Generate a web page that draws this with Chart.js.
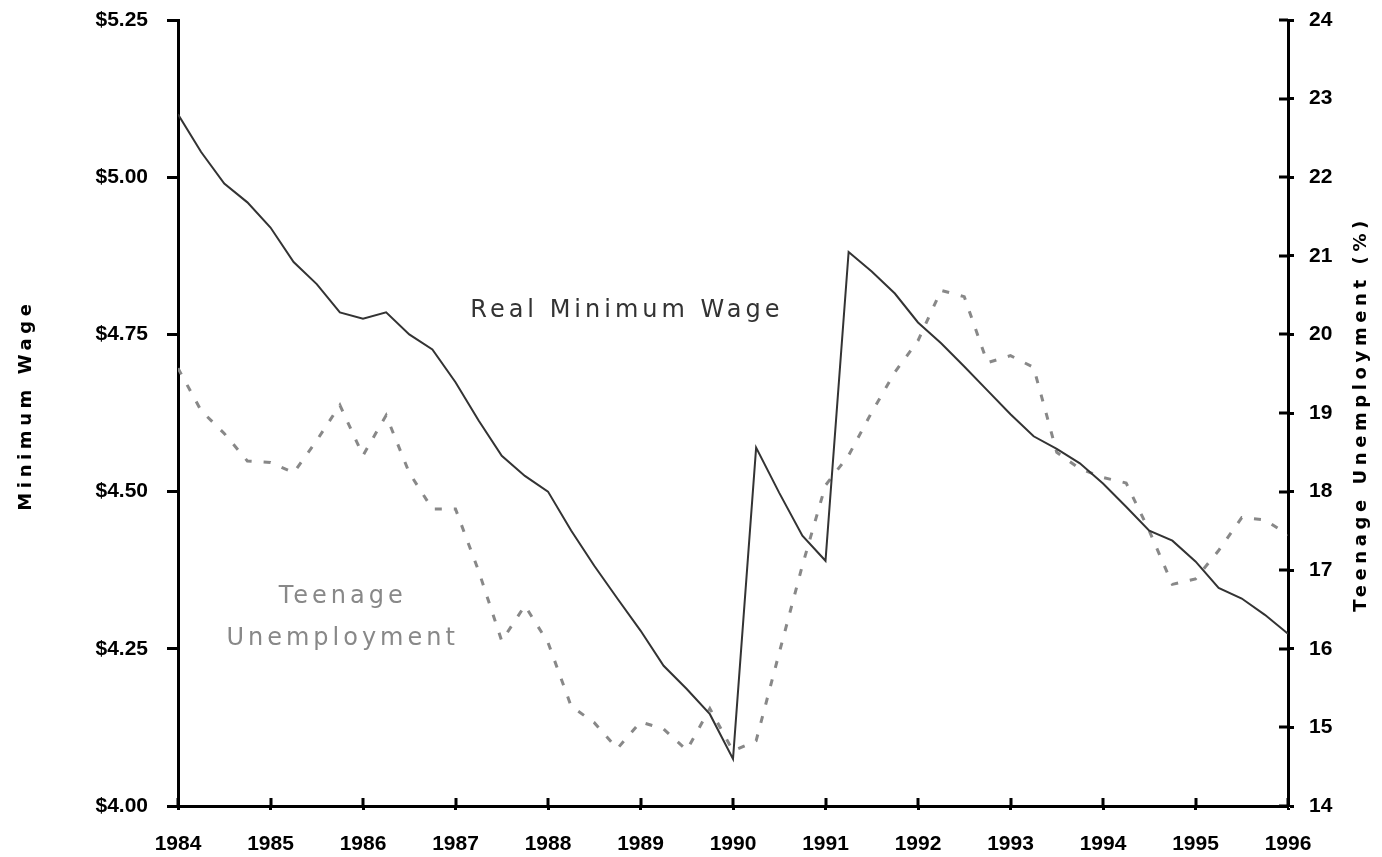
<!DOCTYPE html>
<html>
<head>
<meta charset="utf-8">
<script src="https://cdn.jsdelivr.net/npm/chart.js@4.4.1/dist/chart.umd.min.js"></script>
<style>
  html, body { margin: 0; padding: 0; background: #fff; }
  #wrap { width: 1382px; height: 857px; }
</style>
</head>
<body>
<div id="wrap"><canvas id="chart" width="1382" height="857"></canvas></div>
<script>
// quarterly samples, 1984 Q1 .. 1996 Q1
const firstYear = 1984;
const yearTicks = ['1984', '1985', '1986', '1987', '1988', '1989', '1990', '1991', '1992', '1993', '1994', '1995', '1996'];

// real minimum wage ($)
const realWage = [
    5.10, 5.04, 4.99, 4.96, 4.92, 4.865, 4.83, 4.785,
    4.775, 4.785, 4.75, 4.726, 4.674, 4.613, 4.557, 4.525,
    4.50, 4.438, 4.382, 4.33, 4.279, 4.223, 4.186, 4.146,
    4.075, 4.57, 4.498, 4.43, 4.39, 4.881, 4.85, 4.815,
    4.769, 4.736, 4.699, 4.661, 4.623, 4.588, 4.568, 4.545,
    4.513, 4.476, 4.438, 4.422, 4.389, 4.347, 4.33, 4.304,
    4.274
];

// teenage unemployment (%)
const teenUnemployment = [
    19.57, 19.03, 18.74, 18.39, 18.37, 18.24, 18.65, 19.10,
    18.46, 18.97, 18.24, 17.78, 17.78, 16.99, 16.10, 16.55,
    16.08, 15.27, 15.06, 14.73, 15.07, 14.98, 14.71, 15.24,
    14.70, 14.83, 15.95, 17.06, 18.08, 18.46, 19.01, 19.52,
    19.92, 20.56, 20.48, 19.64, 19.73, 19.58, 18.50, 18.29,
    18.18, 18.11, 17.50, 16.82, 16.89, 17.25, 17.67, 17.64,
    17.45
];

const toPoints = vals => vals.map((v, i) => ({x: firstYear + i / 4, y: v}));

const tickFont = {family: 'Liberation Sans', size: 21, weight: 'bold'};

// y axes: fixed width, and don't let label padding push the plot down
const fixWidth = w => s => {
    s.width = w;
    s.paddingTop = 0;
    s.paddingBottom = 0;
};

function drawText(ctx, text, x, y, opts) {
    ctx.save();
    ctx.font = opts.font;
    ctx.fillStyle = opts.color;
    ctx.letterSpacing = opts.spacing || '0px';
    ctx.textAlign = opts.align || 'center';
    ctx.textBaseline = 'middle';
    ctx.translate(x, y);
    if (opts.rotate) ctx.rotate(opts.rotate);
    ctx.fillText(text, 0, 0);
    ctx.restore();
}

// inner half of the crossing tick marks, axis titles and the in-plot labels
const extras = {
    id: 'extras',
    afterDraw(chart) {
        const {ctx} = chart;
        const x = chart.scales.x, y = chart.scales.y, y1 = chart.scales.y1;
        ctx.save();
        ctx.strokeStyle = '#000';
        ctx.lineWidth = 3;
        ctx.beginPath();
        x.ticks.forEach(t => {
            const px = Math.round(x.getPixelForValue(t.value));
            ctx.moveTo(px, x.top);
            ctx.lineTo(px, x.top - 8);
        });
        y1.ticks.forEach(t => {
            const py = Math.round(y1.getPixelForValue(t.value));
            ctx.moveTo(y1.left, py);
            ctx.lineTo(y1.left - 9, py);
        });
        ctx.stroke();
        ctx.restore();

        drawText(ctx, 'Minimum Wage', 26, 405, {
            font: 'bold 18px "DejaVu Sans"', color: '#000', spacing: '4.6px', rotate: -Math.PI / 2
        });
        drawText(ctx, 'Teenage Unemployment (%)', 1361, 414, {
            font: 'bold 18px "DejaVu Sans"', color: '#000', spacing: '4.6px', rotate: -Math.PI / 2
        });

        const labelFont = '24px "DejaVu Sans"';
        drawText(ctx, 'Real Minimum Wage', x.getPixelForValue(1987.16), y.getPixelForValue(4.787), {
            font: labelFont, color: '#333', spacing: '4px', align: 'left'
        });
        drawText(ctx, 'Teenage', x.getPixelForValue(1985.78), y1.getPixelForValue(16.66), {
            font: labelFont, color: '#888', spacing: '4px'
        });
        drawText(ctx, 'Unemployment', x.getPixelForValue(1985.78), y1.getPixelForValue(16.13), {
            font: labelFont, color: '#888', spacing: '4px'
        });
    }
};

const ctx = document.getElementById('chart').getContext('2d');
new Chart(ctx, {
    type: 'line',
    data: {
        datasets: [{
            label: 'Real Minimum Wage',
            data: toPoints(realWage),
            yAxisID: 'y',
            borderColor: '#333',
            borderWidth: 2,
            pointRadius: 0,
            tension: 0,
            order: 0
        }, {
            label: 'Teenage Unemployment',
            data: toPoints(teenUnemployment),
            yAxisID: 'y1',
            borderColor: '#888',
            borderWidth: 3,
            borderDash: [7, 12],
            pointRadius: 0,
            tension: 0,
            order: 1
        }]
    },
    options: {
        responsive: false,
        animation: false,
        events: [],
        layout: {padding: {left: 0, right: 0, top: 20, bottom: 0}},
        plugins: {legend: {display: false}, tooltip: {enabled: false}},
        scales: {
            x: {
                type: 'linear',
                min: 1984,
                max: 1996,
                afterFit: s => { s.height = 51; },
                afterBuildTicks: s => { s.ticks = yearTicks.map(v => ({value: Number(v)})); },
                ticks: {
                    callback: v => String(v),
                    font: tickFont,
                    color: '#000',
                    padding: 22,
                    autoSkip: false,
                    maxRotation: 0
                },
                grid: {drawOnChartArea: false, tickLength: 4, tickWidth: 3, tickColor: '#000'},
                border: {color: '#000', width: 3}
            },
            y: {
                position: 'left',
                min: 4,
                max: 5.25,
                afterFit: fixWidth(178),
                ticks: {
                    stepSize: 0.25,
                    callback: v => '$' + Number(v).toFixed(2),
                    font: tickFont,
                    color: '#000',
                    padding: 19
                },
                grid: {drawOnChartArea: false, tickLength: 11, tickWidth: 3, tickColor: '#000'},
                border: {color: '#000', width: 3}
            },
            y1: {
                position: 'right',
                min: 14,
                max: 24,
                afterFit: fixWidth(94),
                ticks: {
                    stepSize: 1,
                    font: tickFont,
                    color: '#000',
                    padding: 15
                },
                grid: {drawOnChartArea: false, tickLength: 6, tickWidth: 3, tickColor: '#000'},
                border: {color: '#000', width: 3}
            }
        }
    },
    plugins: [extras]
});
</script>
</body>
</html>
